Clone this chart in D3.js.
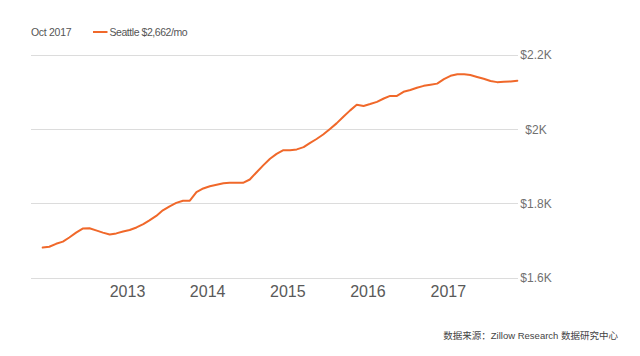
<!DOCTYPE html>
<html>
<head>
<meta charset="utf-8">
<script src="https://cdn.jsdelivr.net/npm/d3@7/dist/d3.min.js"></script>
<style>
  html, body { margin: 0; padding: 0; background: #fff; }
  svg { display: block; font-family: "Liberation Sans", Arial, sans-serif; }
</style>
</head>
<body>
<svg id="chart" width="640" height="356"></svg>
<script>
// ---- data (monthly, Nov 2011 – Oct 2017) ----
const startMonth = "2011-11";
const rentValues = [
  1682, 1684, 1692, 1698, 1709, 1722, 1733, 1734, 1728, 1722, 1717, 1720,
  1725, 1729, 1736, 1745, 1755, 1767, 1782, 1793, 1802, 1808, 1808, 1831,
  1841, 1847, 1851, 1855, 1856, 1856, 1856, 1865, 1884, 1903, 1921, 1934,
  1944, 1944, 1946, 1952, 1963, 1974, 1986, 2001, 2016, 2034, 2051, 2066,
  2063, 2068, 2074, 2083, 2090, 2090, 2101, 2106, 2112, 2117, 2120, 2123,
  2135, 2144, 2148, 2148, 2146, 2141, 2136, 2130, 2127, 2128, 2129, 2131
];
const yTicks = [1600, 1800, 2000, 2200];
const yTickLabels = ["$1.6K", "$1.8K", "$2K", "$2.2K"];
const xTickYears = [2013, 2014, 2015, 2016, 2017];
const legendDate = "Oct 2017";
const legendLabel = "Seattle $2,662/mo";
const sourceText = "数据来源：Zillow Research 数据研究中心";

// ---- build ----
const parseMonth = d3.utcParse("%Y-%m");
const t0 = parseMonth(startMonth);
const data = rentValues.map((v, i) => ({ date: d3.utcMonth.offset(t0, i), value: v }));

const svg = d3.select("#chart");
const orange = "#f0682a";

const x = d3.scaleUtc()
  .domain(d3.extent(data, d => d.date))
  .range([42.7, 517.3]);
const y = d3.scaleLinear()
  .domain([1600, 2200])
  .range([278, 55]);

// gridlines
svg.append("g").selectAll("line")
  .data(yTicks)
  .join("line")
  .attr("x1", 31).attr("x2", 518)
  .attr("y1", d => y(d)).attr("y2", d => y(d))
  .attr("stroke", "#dcdcdc")
  .attr("stroke-width", 1)
  .attr("shape-rendering", "crispEdges");

// y axis labels (right)
const yAxis = d3.axisRight(y)
  .tickValues(yTicks)
  .tickSize(0)
  .tickFormat((d, i) => yTickLabels[i]);
const gy = svg.append("g").attr("transform", "translate(536,0)").call(yAxis);
gy.select(".domain").remove();
gy.selectAll("text")
  .attr("x", 0)
  .attr("text-anchor", "middle")
  .attr("fill", "#707070")
  .style("font-size", "12px")
  .style("font-family", "'Liberation Sans', Arial, sans-serif");

// x axis labels
const xAxis = d3.axisBottom(x)
  .tickValues(xTickYears.map(yr => new Date(Date.UTC(yr, 0, 1))))
  .tickSize(0)
  .tickFormat(d3.utcFormat("%Y"));
const gx = svg.append("g").attr("transform", "translate(-9.5,286)").call(xAxis);
gx.select(".domain").remove();
gx.selectAll("text")
  .attr("y", 0)
  .attr("dy", "0.71em")
  .attr("fill", "#595959")
  .style("font-size", "16px")
  .style("font-family", "'Liberation Sans', Arial, sans-serif");

// line
const line = d3.line()
  .x(d => x(d.date))
  .y(d => y(d.value));
svg.append("path")
  .datum(data)
  .attr("d", line)
  .attr("fill", "none")
  .attr("stroke", orange)
  .attr("stroke-width", 2)
  .attr("stroke-linejoin", "round")
  .attr("stroke-linecap", "round");

// legend
svg.append("text")
  .attr("x", 31).attr("y", 36)
  .attr("fill", "#555")
  .style("font-size", "10.5px")
  .style("letter-spacing", "-0.3px")
  .text(legendDate);
svg.append("line")
  .attr("x1", 93).attr("x2", 107.5)
  .attr("y1", 32).attr("y2", 32)
  .attr("stroke", orange)
  .attr("stroke-width", 2);
svg.append("text")
  .attr("x", 109.5).attr("y", 36)
  .attr("fill", "#555")
  .style("font-size", "10.5px")
  .style("letter-spacing", "-0.45px")
  .text(legendLabel);

// source
svg.append("text")
  .attr("x", 618).attr("y", 338.5)
  .attr("text-anchor", "end")
  .attr("fill", "#444")
  .style("font-size", "9.5px")
  .style("font-family", "'Liberation Sans', 'Noto Sans CJK SC', sans-serif")
  .text(sourceText);
</script>
</body>
</html>
